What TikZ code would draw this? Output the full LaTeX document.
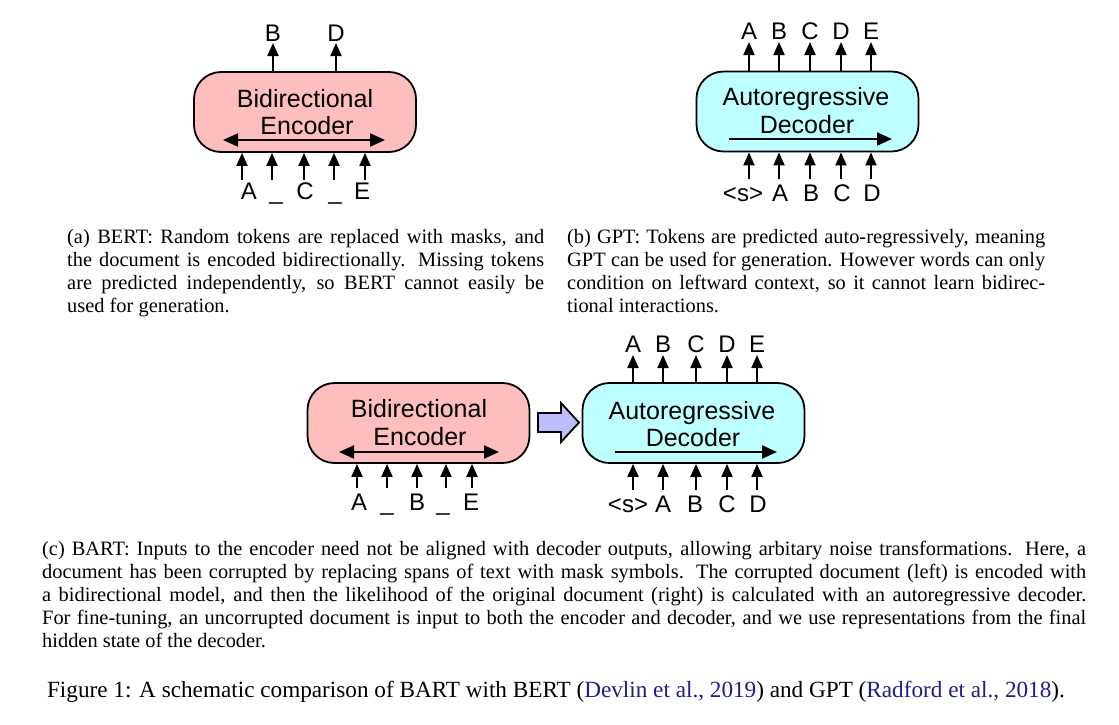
\documentclass[tikz,border=0pt]{standalone}
\usepackage{fontspec}
\setmainfont{Liberation Serif}
\newfontfamily\diagfont{Liberation Sans}
\usetikzlibrary{arrows.meta}
\definecolor{encpink}{RGB}{255,190,190}
\definecolor{deccyan}{RGB}{190,255,255}
\definecolor{lav}{RGB}{190,190,255}
\definecolor{citeblue}{RGB}{30,30,140}
\tikzset{
  model/.style={draw=black, line width=1.8pt, rounded corners=27pt, minimum width=222pt, minimum height=80pt, inner sep=0pt},
  boxtext/.style={font=\diagfont\fontsize{25}{30}\selectfont, anchor=base, inner sep=0pt},
  tok/.style={font=\diagfont\fontsize{24}{28}\selectfont, anchor=base, inner sep=0pt},
  tokarrow/.style={line width=2pt, -{Triangle[length=13pt,width=11pt]}},
  dirarrow/.style={line width=2pt, -{Triangle[length=15pt,width=13pt]}},
  bidirarrow/.style={line width=2pt, {Triangle[length=15pt,width=13pt]}-{Triangle[length=15pt,width=13pt]}},
  captext/.style={anchor=base west, inner sep=0pt},
  blockarrow/.style={draw=black, line width=1.8pt, fill=lav, line join=miter},
}
\begin{document}
\begin{tikzpicture}[x=1pt, y=-1pt]
\useasboundingbox (0,0) rectangle (1119,724);
\fill[white] (0,0) rectangle (1119,724);

% ---------- (a) BERT ----------
\node[model, fill=encpink] (encA) at (305,112) {};
\node[boxtext] (encAt1) at (305,107) {Bidirectional};
\node[boxtext] (encAt2) at (307,134) {Encoder};
\coordinate (encAl) at (223,140);
\coordinate (encAr) at (385,140);
\draw[bidirarrow] (encAl) -- (encAr);
\foreach \n/\ax/\lx/\t in {1/242/249/A, 2/272/276/\_, 3/304/305/C, 4/334/335/\_, 5/365/362/E} {
  \node[tok] (inA\n) at (\lx,199) {\t};
  \coordinate (inAs\n) at (\ax,180);
  \draw[tokarrow] (inAs\n) -- (inAs\n |- encA.south);
}
\foreach \n/\ax/\t in {1/273/B, 2/336/D} {
  \node[tok] (outA\n) at (\ax,41) {\t};
  \coordinate (outAe\n) at (\ax,43);
  \draw[tokarrow] (outAe\n |- encA.north) -- (outAe\n);
}

% ---------- (b) GPT ----------
\node[model, fill=deccyan] (decB) at (807.5,111.5) {};
\node[boxtext] (decBt1) at (806,105) {Autoregressive};
\node[boxtext] (decBt2) at (807,133) {Decoder};
\coordinate (decBl) at (729,139);
\coordinate (decBr) at (892,139);
\draw[dirarrow] (decBl) -- (decBr);
\foreach \n/\ax/\t in {1/749/A, 2/779/B, 3/810/C, 4/841/D, 5/871/E} {
  \node[tok] (outB\n) at (\ax,39) {\t};
  \coordinate (outBe\n) at (\ax,42);
  \draw[tokarrow] (outBe\n |- decB.north) -- (outBe\n);
}
\foreach \n/\ax/\lx/\t in {1/749/743/{<s>}, 2/779/780/A, 3/810/811/B, 4/841/842/C, 5/871/872/D} {
  \node[tok] (inB\n) at (\lx,201) {\t};
  \coordinate (inBs\n) at (\ax,179);
  \draw[tokarrow] (inBs\n) -- (inBs\n |- decB.south);
}

% ---------- (c) BART ----------
\node[model, fill=encpink] (encC) at (418.5,423) {};
\node[boxtext] (encCt1) at (419,417) {Bidirectional};
\node[boxtext] (encCt2) at (420,445) {Encoder};
\coordinate (encCl) at (339,452);
\coordinate (encCr) at (499,452);
\draw[bidirarrow] (encCl) -- (encCr);
\foreach \n/\ax/\lx/\t in {1/357/359/A, 2/387/387/\_, 3/417/417/B, 4/446/443/\_, 5/472/471/E} {
  \node[tok] (inC\n) at (\lx,510) {\t};
  \coordinate (inCs\n) at (\ax,488);
  \draw[tokarrow] (inCs\n) -- (inCs\n |- encC.south);
}

\node[model, fill=deccyan] (decC) at (693.5,423) {};
\node[boxtext] (decCt1) at (692,419) {Autoregressive};
\node[boxtext] (decCt2) at (693,446) {Decoder};
\coordinate (decCl) at (615,452);
\coordinate (decCr) at (777,452);
\draw[dirarrow] (decCl) -- (decCr);
\foreach \n/\ax/\t in {1/633/A, 2/663/B, 3/696/C, 4/727/D, 5/757/E} {
  \node[tok] (outC\n) at (\ax,352) {\t};
  \coordinate (outCe\n) at (\ax,355);
  \draw[tokarrow] (outCe\n |- decC.north) -- (outCe\n);
}
\foreach \n/\ax/\lx/\t in {1/633/628/{<s>}, 2/663/663/A, 3/696/695/B, 4/727/727/C, 5/757/758/D} {
  \node[tok] (inD\n) at (\lx,512) {\t};
  \coordinate (inDs\n) at (\ax,490);
  \draw[tokarrow] (inDs\n) -- (inDs\n |- decC.south);
}

% block arrow between encoder and decoder
\draw[blockarrow] (538,413) -- (561,413) -- (561,403) -- (579,422.5) -- (561,442) -- (561,432) -- (538,432) -- cycle;

% ---------- captions ----------
\node[captext] (capA) at (67,243) {\parbox[t]{477pt}{\fontsize{20.4}{23.2}\selectfont
(a) BERT: Random tokens are replaced with masks, and\linebreak
the document is encoded bidirectionally. Missing tokens\linebreak
are predicted independently, so BERT cannot easily be\linebreak
used for generation.}};

\node[captext] (capB) at (567,243) {\parbox[t]{478pt}{\fontsize{20.4}{23.2}\selectfont
(b) GPT: Tokens are predicted auto-regressively, meaning\linebreak
GPT can be used for generation. However words can only\linebreak
condition on leftward context, so it cannot learn bidirec-\linebreak
tional interactions.}};

\node[captext] (capC) at (42,555) {\parbox[t]{1044pt}{\fontsize{20.4}{23.2}\selectfont
(c) BART: Inputs to the encoder need not be aligned with decoder outputs, allowing arbitary noise transformations. Here, a\linebreak
document has been corrupted by replacing spans of text with mask symbols. The corrupted document (left) is encoded with\linebreak
a bidirectional model, and then the likelihood of the original document (right) is calculated with an autoregressive decoder.\linebreak
For fine-tuning, an uncorrupted document is input to both the encoder and decoder, and we use representations from the final\linebreak
hidden state of the decoder.}};

\node[anchor=base, inner sep=0pt, font=\fontsize{23.2}{27}\selectfont] (figcap) at (556,697)
  {Figure 1: A schematic comparison of BART with BERT (\textcolor{citeblue}{Devlin et al., 2019}) and GPT (\textcolor{citeblue}{Radford et al., 2018}).};
\end{tikzpicture}
\end{document}
